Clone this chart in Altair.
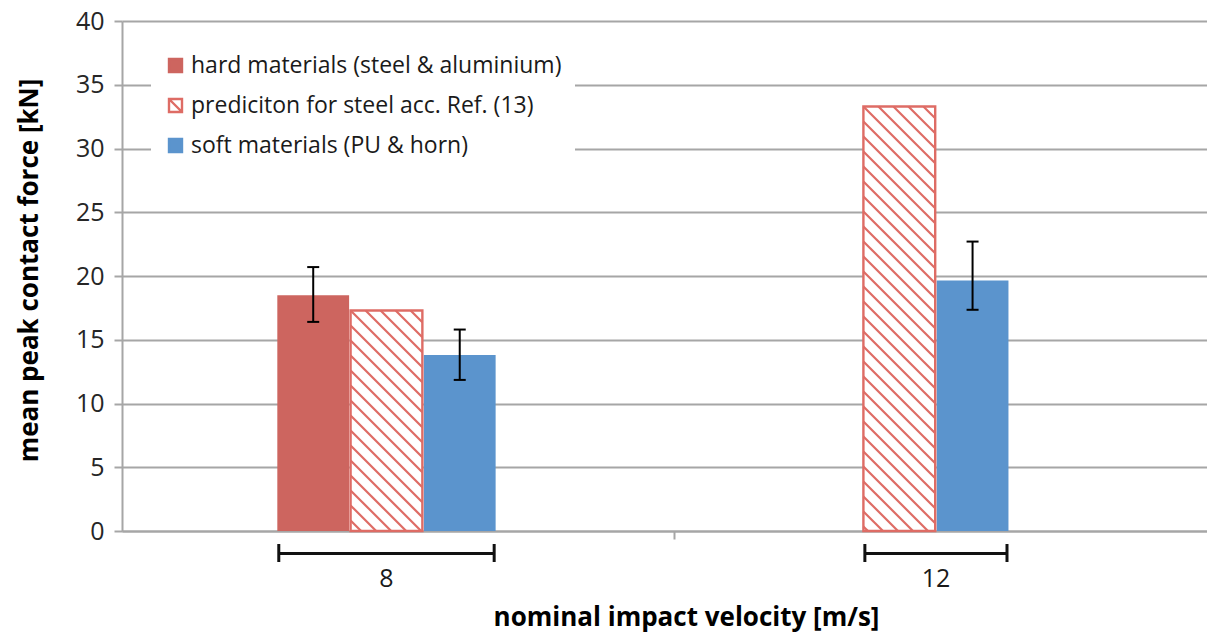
import altair as alt
import pandas as pd
import numpy as np

# ---------------- data ----------------
velocities = ["8", "12"]
series_names = [
    "hard materials (steel & aluminium)",
    "prediciton for steel acc. Ref. (13)",
    "soft materials (PU & horn)",
]
hard_mean = [18.5, None]
hard_low = [16.4, None]
hard_high = [20.7, None]
pred_mean = [17.3, 33.3]
soft_mean = [13.8, 19.65]
soft_low = [11.85, 17.35]
soft_high = [15.8, 22.7]

# ---------------- layout / style ----------------
W, H = 1085, 510
TOP = 13
X_DOM = [-2.61, 12.2]
Y_DOM = [0, 40]
GROUP_STEP = 7          # slots between the two velocity groups
HALF = 0.49             # half bar width in slot units
kx = W / (X_DOM[1] - X_DOM[0])
ky = H / (Y_DOM[1] - Y_DOM[0])
RED = "#CD655F"
HATCH = "#DE6C65"
BLUE = "#5B94CD"
GRAY = "#A6A6A6"
FONT = "Open Sans"
HATCH_STEP = 15.0       # px
CAP = 6.0               # px, half width of error-bar caps
HATCH_SYMBOL = "M-1,-1H1V1H-1ZM-1,-1L1,1"
FILLS = dict(zip(series_names, [RED, "white", BLUE]))

groups = [
    (series_names[0], hard_mean, hard_low, hard_high),
    (series_names[1], pred_mean, [None, None], [None, None]),
    (series_names[2], soft_mean, soft_low, soft_high),
]
rows = []
for ci, vel in enumerate(velocities):
    for si, (name, means, lows, highs) in enumerate(groups):
        m = means[ci]
        if m is None:
            continue
        slot = ci * GROUP_STEP + si
        rows.append(dict(velocity=vel, series=name, slot=slot,
                         x0=slot - HALF, x1=slot + HALF, value=m,
                         lo=lows[ci], hi=highs[ci],
                         cl=slot - CAP / kx, cr=slot + CAP / kx))
bars = pd.DataFrame(rows)
bars["fillc"] = bars.series.map(FILLS)
errs = bars.dropna(subset=["lo", "hi"])
pred = bars[bars.series == series_names[1]]
legend_df = pd.DataFrame({"series": series_names})

# hatch segments for the prediction bars (45 degree "\" lines)
hatch = []
for r in pred.itertuples():
    Wp = (r.x1 - r.x0) * kx
    Hp = r.value * ky
    for k in range(-int(np.ceil(Wp / HATCH_STEP)), int(np.ceil(Hp / HATCH_STEP)) + 1):
        c = k * HATCH_STEP
        u1 = max(0.0, -c)
        u2 = min(Wp, Hp - c)
        if u2 - u1 < 0.5:
            continue
        hatch.append(dict(hx=r.x0 + u1 / kx, hy=r.value - (u1 + c) / ky,
                          hx2=r.x0 + u2 / kx, hy2=r.value - (u2 + c) / ky))
hatch = pd.DataFrame(hatch)

# brackets under each velocity group
brk = []
for vel in velocities:
    s = bars[bars.velocity == vel].slot
    lo, hi = s.min() - 0.47, s.max() + 0.47
    brk.append(dict(velocity=vel, blo=lo, bhi=hi, bc=(lo + hi) / 2))
brk = pd.DataFrame(brk)

xs = alt.Scale(domain=X_DOM, nice=False, zero=False)
ys = alt.Scale(domain=Y_DOM, nice=False)

x_axis = alt.Axis(values=[4.93], labels=False, grid=False, tickSize=8, tickWidth=2,
                  tickColor=GRAY, domainColor=GRAY, domainWidth=2,
                  title="nominal impact velocity [m/s]", titleX=564, titleY=94,
                  titleAlign="center", titleBaseline="alphabetic", titleFont=FONT,
                  titleFontSize=26, titleFontWeight="bold", titleColor="#000000")
y_axis = alt.Axis(values=list(range(0, 41, 5)), title="mean peak contact force [kN]",
                  titleFont=FONT, titleFontWeight="bold", titleFontSize=26, titleColor="#000000",
                  titleAngle=270, titleX=-85, titleY=249, titleAlign="center",
                  titleBaseline="alphabetic", labelFont=FONT, labelFontSize=25,
                  labelColor="#262626", labelPadding=10, tickSize=8, tickWidth=2,
                  tickColor=GRAY, domainColor=GRAY, domainWidth=2, gridColor=GRAY, gridWidth=2)

legend = alt.Legend(
    title=None, orient="none", legendX=29, legendY=20, fillColor="white",
    padding=13, rowPadding=16, labelFontSize=23, labelFont=FONT, labelColor="#1a1a1a",
    symbolSize=169, symbolStrokeWidth=2.4, labelOffset=4, labelLimit=600, symbolOpacity=1,
)

bar_layer = alt.Chart(bars).mark_bar().encode(
    x=alt.X("x0:Q", scale=xs, axis=x_axis),
    x2="x1:Q",
    y=alt.Y("value:Q", scale=ys, axis=y_axis),
    y2=alt.datum(0),
    fill=alt.Fill("fillc:N", scale=None),
)

# points that only carry the legend; they sit below the plot floor and are clipped away
legend_layer = alt.Chart(legend_df).mark_point(clip=True, strokeWidth=2.4, filled=True,
                                               opacity=1).encode(
    x=alt.datum(0, scale=xs),
    y=alt.datum(-20, scale=ys),
    fill=alt.Fill("series:N", scale=alt.Scale(domain=series_names, range=[RED, "white", BLUE]),
                  legend=legend),
    stroke=alt.Stroke("series:N", scale=alt.Scale(domain=series_names, range=[RED, HATCH, BLUE]),
                      legend=legend),
    shape=alt.Shape("series:N", scale=alt.Scale(domain=series_names,
                                                range=["square", HATCH_SYMBOL, "square"]),
                    legend=legend),
)

hatch_layer = alt.Chart(hatch).mark_rule(color=HATCH, strokeWidth=2.2).encode(
    x=alt.X("hx:Q", scale=xs), x2="hx2:Q",
    y=alt.Y("hy:Q", scale=ys), y2="hy2:Q",
)

outline_layer = alt.Chart(pred).mark_bar(fillOpacity=0, stroke=HATCH, strokeWidth=2.4).encode(
    x=alt.X("x0:Q", scale=xs), x2="x1:Q",
    y=alt.Y("value:Q", scale=ys), y2=alt.datum(0),
)

err_rule = alt.Chart(errs).mark_rule(color="#000000", strokeWidth=2).encode(
    x=alt.X("slot:Q", scale=xs), y=alt.Y("lo:Q", scale=ys), y2="hi:Q")
cap_lo = alt.Chart(errs).mark_rule(color="#000000", strokeWidth=2).encode(
    x=alt.X("cl:Q", scale=xs), x2="cr:Q", y=alt.Y("lo:Q", scale=ys))
cap_hi = alt.Chart(errs).mark_rule(color="#000000", strokeWidth=2).encode(
    x=alt.X("cl:Q", scale=xs), x2="cr:Q", y=alt.Y("hi:Q", scale=ys))

brk_line = alt.Chart(brk).mark_rule(color="#111111", strokeWidth=3).encode(
    x=alt.X("blo:Q", scale=xs), x2="bhi:Q", y=alt.value(H + 22.5))
brk_l = alt.Chart(brk).mark_rule(color="#111111", strokeWidth=3).encode(
    x=alt.X("blo:Q", scale=xs), y=alt.value(H + 13), y2=alt.value(H + 31))
brk_r = alt.Chart(brk).mark_rule(color="#111111", strokeWidth=3).encode(
    x=alt.X("bhi:Q", scale=xs), y=alt.value(H + 13), y2=alt.value(H + 31))
brk_text = alt.Chart(brk).mark_text(font=FONT, fontSize=25, color="#1a1a1a",
                                    baseline="alphabetic", align="center").encode(
    x=alt.X("bc:Q", scale=xs), y=alt.value(H + 56), text="velocity:N")

chart = alt.layer(
    bar_layer, hatch_layer, outline_layer, err_rule, cap_lo, cap_hi,
    brk_line, brk_l, brk_r, brk_text, legend_layer,
).properties(
    width=W, height=H,
    padding={"left": 114, "top": TOP, "right": 0, "bottom": 102},
    autosize=alt.AutoSizeParams(type="none"),
    background="white",
).configure_view(stroke=None)

chart.save("out.html", embed_options={"renderer": "svg", "actions": False})
